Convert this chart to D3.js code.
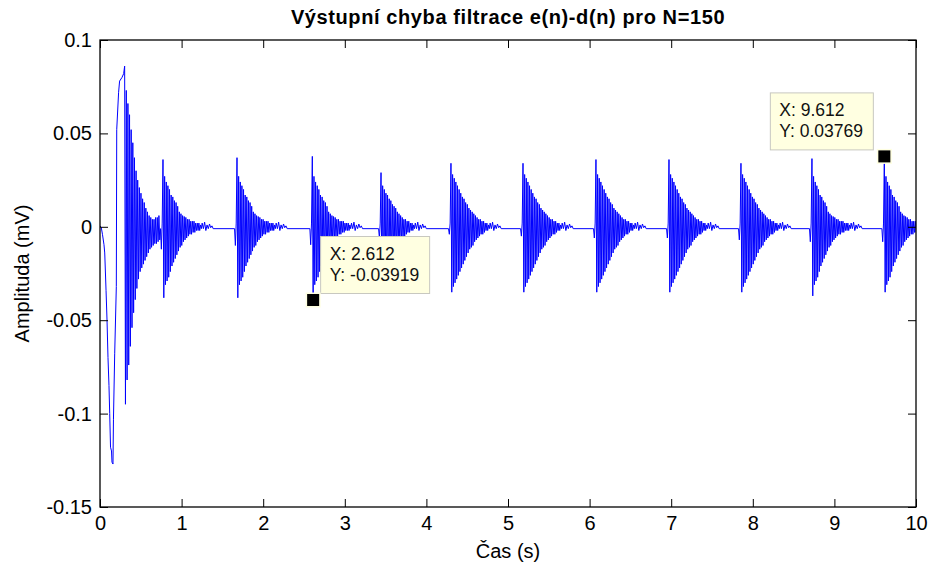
<!DOCTYPE html>
<html>
<head>
<meta charset="utf-8">
<script src="https://cdn.jsdelivr.net/npm/d3@7"></script>
<style>
  body { margin: 0; background: #fff; }
  svg { display: block; font-family: "Liberation Sans", Arial, sans-serif; }
</style>
</head>
<body>
<svg id="chart" width="930" height="565"></svg>
<script>
// axis ticks
const xTicks = [0, 1, 2, 3, 4, 5, 6, 7, 8, 9, 10];
const yTicks = [-0.15, -0.1, -0.05, 0, 0.05, 0.1];
const yTickLabels = ['-0.15', '-0.1', '-0.05', '0', '0.05', '0.1'];

// slow onset before the first big ringing (time s, amplitude mV)
const onsetTimes = [0, 0.016, 0.03, 0.049, 0.058, 0.074, 0.086, 0.098, 0.11, 0.119, 0.129, 0.141, 0.147, 0.159,
  0.165, 0.18, 0.2, 0.205, 0.228, 0.24, 0.27, 0.29];
const onsetValues = [0.0005, -0.0005, -0.004, -0.0096, -0.014, -0.034, -0.05, -0.07, -0.085, -0.1, -0.118, -0.12, -0.126, -0.127,
  -0.103, -0.068, -0.032, 0.052, 0.072, 0.078, 0.080, 0.082];

// first large ringing: upper and lower peaks, alternating every sampleStep
const sampleStep = 0.01;
const firstStart = 0.302;
const firstUp = [0.086, 0.073, 0.066, 0.060, 0.052, 0.045, 0.037, 0.030, 0.025, 0.021, 0.018, 0.015,
  0.013, 0.010, 0.008, 0.006, 0.005, 0.004, 0.004, 0.005, 0.005, 0.006];
const firstDown = [-0.095, -0.082, -0.074, -0.064, -0.054, -0.046, -0.039, -0.033, -0.028, -0.024, -0.022, -0.020,
  -0.018, -0.016, -0.014, -0.012, -0.011, -0.010, -0.009, -0.009, -0.008, -0.007];

// later beats: upper spike time, spike peaks, small dip just before the spike
const beatTimes = [0.772, 1.679, 2.602, 3.444, 4.301, 5.184, 6.078, 6.973, 7.855, 8.725, 9.612];
const beatTop = [0.036, 0.037, 0.0377, 0.029, 0.034, 0.034, 0.036, 0.036, 0.034, 0.0365, 0.03769];
const beatBottom = [-0.038, -0.038, -0.03919, -0.031, -0.035, -0.035, -0.035, -0.035, -0.035, -0.037, -0.035];
const beatDip = [-0.012, -0.010, -0.0096, -0.006, -0.004, -0.005, -0.006, -0.006, -0.007, -0.008, -0.008];
const beatRing = ['medium', 'medium', 'medium', 'small', 'large', 'large', 'large', 'large', 'large', 'medium', 'medium'];

// decaying ringing after the spike pair (upper / lower peaks)
const ringUp = {
  small: [0.022, 0.020, 0.018, 0.017, 0.015, 0.014, 0.012, 0.011, 0.010, 0.008, 0.007, 0.006, 0.005, 0.004,
    0.004, 0.003, 0.003, 0.002, 0.002, 0.001],
  medium: [0.027, 0.024, 0.022, 0.020, 0.017, 0.016, 0.014, 0.013, 0.011, 0.008, 0.007, 0.006, 0.0055, 0.005,
    0.004, 0.004, 0.003, 0.003, 0.003, 0.002, 0.002, 0.002, 0.001],
  large: [0.028, 0.026, 0.024, 0.022, 0.020, 0.018, 0.016, 0.015, 0.013, 0.012, 0.010, 0.009, 0.008, 0.007,
    0.006, 0.005, 0.004, 0.004, 0.003, 0.003, 0.002, 0.002, 0.001]
};
const ringDown = {
  small: [-0.027, -0.025, -0.023, -0.021, -0.019, -0.017, -0.015, -0.013, -0.011, -0.010, -0.008, -0.007, -0.006, -0.005,
    -0.004, -0.003, -0.003, -0.002, -0.002, -0.001],
  medium: [-0.031, -0.029, -0.027, -0.024, -0.021, -0.019, -0.017, -0.015, -0.013, -0.011, -0.010, -0.008, -0.007, -0.006,
    -0.005, -0.004, -0.004, -0.003, -0.003, -0.002, -0.002, -0.002, -0.001],
  large: [-0.032, -0.030, -0.028, -0.026, -0.024, -0.022, -0.020, -0.018, -0.016, -0.014, -0.012, -0.011, -0.010, -0.008,
    -0.007, -0.006, -0.005, -0.004, -0.004, -0.003, -0.002, -0.002, -0.001]
};
// small jitter that follows each ringing before the flat baseline
const ringTail = [0.002, -0.001, 0.0025, -0.002, 0.001, -0.001, 0.0015, -0.0005, 0.0005, -0.001];

// data tips
const tipX = [2.612, 9.612];
const tipY = [-0.03919, 0.03769];
const tipLabelX = ['X: 2.612', 'X: 9.612'];
const tipLabelY = ['Y: -0.03919', 'Y: 0.03769'];
const tipSide = ['right', 'left'];

const width = 930;
const height = 565;
const margin = {top: 40, right: 14, bottom: 58, left: 100};
const plotW = width - margin.left - margin.right;
const plotH = height - margin.top - margin.bottom;

const svg = d3.select('#chart');

const x = d3.scaleLinear().domain([0, 10]).range([margin.left, margin.left + plotW]);
const y = d3.scaleLinear().domain([-0.15, 0.1]).range([margin.top + plotH, margin.top]);

// build the signal
const points = [];
onsetTimes.forEach((t, i) => points.push([t, onsetValues[i]]));
firstUp.forEach((v, i) => {
  points.push([firstStart + 2 * i * sampleStep, v]);
  points.push([firstStart + (2 * i + 1) * sampleStep, firstDown[i]]);
});
beatTimes.forEach((t0, b) => {
  points.push([t0 - 3 * sampleStep, -0.001]);
  points.push([t0 - 2 * sampleStep, beatDip[b]]);
  points.push([t0 - sampleStep, 0.002]);
  points.push([t0, beatTop[b]]);
  points.push([t0 + sampleStep, beatBottom[b]]);
  const up = ringUp[beatRing[b]];
  const down = ringDown[beatRing[b]];
  up.forEach((v, i) => {
    points.push([t0 + (2 * i + 2) * sampleStep, v]);
    points.push([t0 + (2 * i + 3) * sampleStep, down[i]]);
  });
  const tailStart = t0 + (2 * up.length + 2) * sampleStep;
  ringTail.forEach((v, i) => points.push([tailStart + i * 1.5 * sampleStep, v]));
});

svg.append('defs').append('clipPath').attr('id', 'plotClip')
  .append('rect')
  .attr('x', margin.left).attr('y', margin.top)
  .attr('width', plotW).attr('height', plotH);

svg.append('rect')
  .attr('x', margin.left).attr('y', margin.top)
  .attr('width', plotW).attr('height', plotH)
  .attr('fill', '#fff');

const line = d3.line()
  .x(d => x(d[0]))
  .y(d => y(d[1]));

svg.append('path')
  .datum(points)
  .attr('clip-path', 'url(#plotClip)')
  .attr('fill', 'none')
  .attr('stroke', '#0000ff')
  .attr('stroke-width', 1)
  .attr('d', line);

// axes, MATLAB style ticks pointing inside
const tickLen = 8;
const axisFont = 20;

const xAxis = svg.append('g')
  .attr('transform', `translate(0,${margin.top + plotH})`)
  .call(d3.axisBottom(x).tickValues(xTicks).tickSizeInner(-tickLen).tickSizeOuter(0).tickPadding(9)
    .tickFormat(d3.format('d')));
const xTop = svg.append('g')
  .attr('transform', `translate(0,${margin.top})`)
  .call(d3.axisTop(x).tickValues(xTicks).tickSizeInner(-tickLen).tickSizeOuter(0).tickFormat(''));
const yAxis = svg.append('g')
  .attr('transform', `translate(${margin.left},0)`)
  .call(d3.axisLeft(y).tickValues(yTicks).tickSizeInner(-tickLen).tickSizeOuter(0).tickPadding(8)
    .tickFormat((d, i) => yTickLabels[i]));
const yRight = svg.append('g')
  .attr('transform', `translate(${margin.left + plotW},0)`)
  .call(d3.axisRight(y).tickValues(yTicks).tickSizeInner(-tickLen).tickSizeOuter(0).tickFormat(''));

[xAxis, xTop, yAxis, yRight].forEach(g => {
  g.select('.domain').remove();
  g.selectAll('.tick line').attr('stroke', '#000').attr('stroke-width', 1);
  g.selectAll('.tick text')
    .attr('fill', '#000')
    .style('font-size', `${axisFont}px`)
    .style('font-family', '"Liberation Sans", Arial, sans-serif');
});

svg.append('rect')
  .attr('x', margin.left).attr('y', margin.top)
  .attr('width', plotW).attr('height', plotH)
  .attr('fill', 'none')
  .attr('stroke', '#000')
  .attr('stroke-width', 1.3);

// titles
svg.append('text')
  .attr('x', margin.left + plotW / 2)
  .attr('y', 24)
  .attr('text-anchor', 'middle')
  .style('font-size', '20px')
  .style('font-weight', 'bold')
  .style('letter-spacing', '0.6px')
  .text('Výstupní chyba filtrace e(n)-d(n) pro N=150');

svg.append('text')
  .attr('x', margin.left + plotW / 2)
  .attr('y', 558)
  .attr('text-anchor', 'middle')
  .style('font-size', `${axisFont}px`)
  .text('Čas (s)');

svg.append('text')
  .attr('transform', `translate(29,${margin.top + plotH / 2}) rotate(-90)`)
  .attr('text-anchor', 'middle')
  .style('font-size', `${axisFont}px`)
  .text('Amplituda (mV)');

// data tips
const tipFont = 17.5;
tipX.forEach((tx, i) => {
  const mx = x(tx);
  const my = y(tipY[i]);
  const g = svg.append('g');

  const box = g.append('rect')
    .attr('fill', '#ffffe1')
    .attr('stroke', '#c8c8c0')
    .attr('stroke-width', 1);

  const t1 = g.append('text').style('font-size', `${tipFont}px`).attr('fill', '#111').text(tipLabelX[i]);
  const t2 = g.append('text').style('font-size', `${tipFont}px`).attr('fill', '#111').text(tipLabelY[i]);

  const textW = Math.max(t1.node().getComputedTextLength(), t2.node().getComputedTextLength());
  const boxW = Math.round(textW + 19);
  const boxH = 57;
  const boxX = tipSide[i] === 'right' ? mx + 7.5 : mx - 11 - boxW;
  const boxY = my - 6.5 - boxH;

  box.attr('x', boxX).attr('y', boxY).attr('width', boxW).attr('height', boxH);
  t1.attr('x', boxX + 9).attr('y', boxY + 23);
  t2.attr('x', boxX + 9).attr('y', boxY + 44);

  g.append('rect')
    .attr('x', mx - 7.5).attr('y', my - 7.5)
    .attr('width', 15).attr('height', 15)
    .attr('fill', '#ffffe1');
  g.append('rect')
    .attr('x', mx - 6).attr('y', my - 6)
    .attr('width', 12).attr('height', 12)
    .attr('fill', '#000');
});
</script>
</body>
</html>
